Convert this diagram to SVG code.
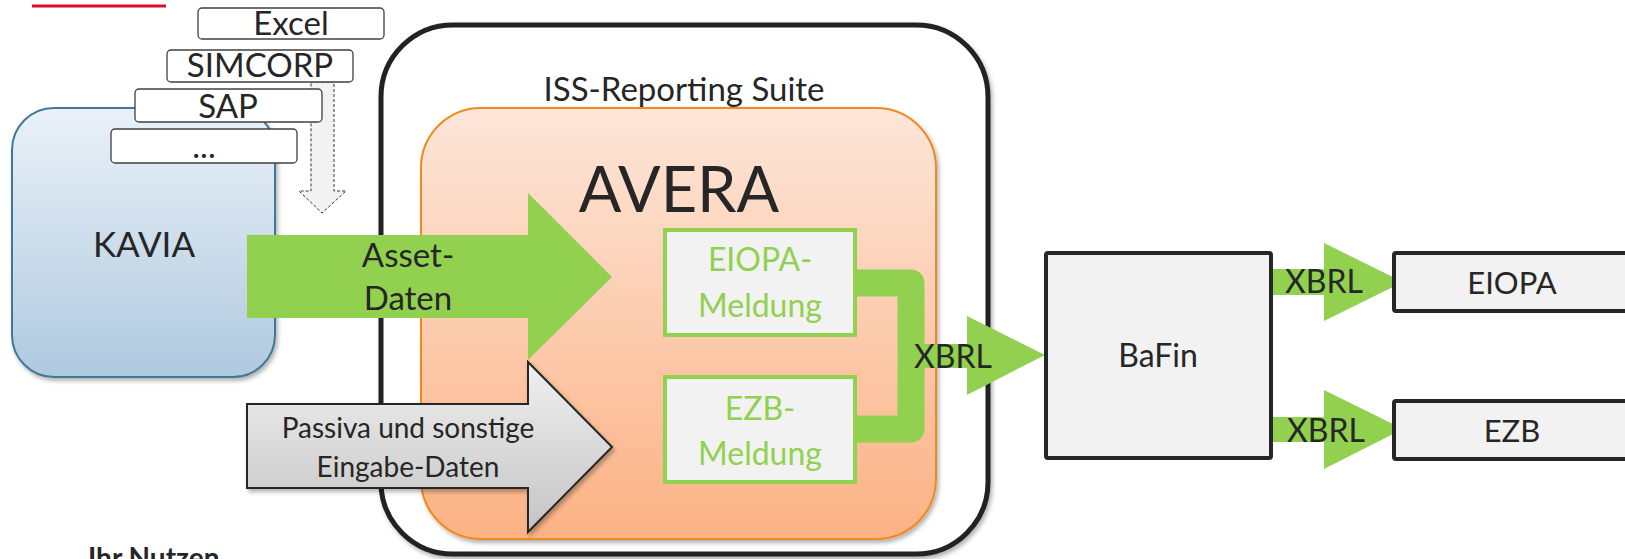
<svg xmlns="http://www.w3.org/2000/svg" width="1625" height="559" viewBox="0 0 1625 559">
<defs>
  <linearGradient id="gKavia" x1="0" y1="0" x2="0" y2="1">
    <stop offset="0" stop-color="#eaf1f8"/>
    <stop offset="1" stop-color="#afc9df"/>
  </linearGradient>
  <linearGradient id="gAvera" x1="0" y1="0" x2="0" y2="1">
    <stop offset="0" stop-color="#fde6d9"/>
    <stop offset="1" stop-color="#fbb284"/>
  </linearGradient>
  <linearGradient id="gGray" x1="0" y1="0" x2="0" y2="1">
    <stop offset="0" stop-color="#f0f0f0"/>
    <stop offset="1" stop-color="#c4c4c4"/>
  </linearGradient>
  <filter id="shadow" x="-10%" y="-10%" width="130%" height="130%">
    <feDropShadow dx="2" dy="3" stdDeviation="2" flood-color="#000" flood-opacity="0.3"/>
  </filter>
</defs>
<style>
  text { font-family: Lato, "Liberation Sans", sans-serif; fill: #262626; text-anchor: middle; }
  .src { fill: #ffffff; stroke: #404040; stroke-width: 1.3; }
  .box { fill: #f2f2f2; stroke: #262626; stroke-width: 4; }
  .msg { fill: #f2f2f2; stroke: #92d050; stroke-width: 4; }
  .gtext { fill: #92d050; }
  .green { fill: #92d050; }
</style>
<rect width="1625" height="559" fill="#ffffff"/>
<line x1="32" y1="6" x2="166" y2="6" stroke="#d8102c" stroke-width="3"/>

<g id="iss-suite">
  <rect x="381" y="25" width="607" height="529" rx="72" fill="#ffffff" stroke="#222222" stroke-width="5" filter="url(#shadow)"/>
  <text x="684" y="101" font-size="33">ISS-Reporting Suite</text>
</g>

<g id="avera">
  <rect x="421" y="108" width="515" height="431" rx="60" fill="url(#gAvera)" stroke="#f08a1c" stroke-width="2" filter="url(#shadow)"/>
  <text x="679" y="212" font-size="63">AVERA</text>
</g>

<g id="kavia">
  <rect x="12" y="108" width="263" height="269" rx="42" fill="url(#gKavia)" stroke="#41789a" stroke-width="2" filter="url(#shadow)"/>
  <text x="144" y="257" font-size="35">KAVIA</text>
</g>

<g id="connectors">
  <path d="M311,82 H334 V191 H346 L322,213 L299,191 H311 Z" fill="#f2f2f2" stroke="#333333" stroke-width="1" stroke-dasharray="3,2"/>
  <path d="M855,283 H911 V429 H855" fill="none" stroke="#92d050" stroke-width="27" stroke-linejoin="round"/>
</g>

<g id="src-excel">
  <rect class="src" x="198" y="8" width="186" height="31" rx="4"/>
  <text x="291" y="35" font-size="33">Excel</text>
</g>
<g id="src-simcorp">
  <rect class="src" x="167" y="50" width="186" height="32" rx="4"/>
  <text x="260" y="77" font-size="33">SIMCORP</text>
</g>
<g id="src-sap">
  <rect class="src" x="135" y="89" width="187" height="33" rx="4"/>
  <text x="228" y="118" font-size="33">SAP</text>
</g>
<g id="src-more">
  <rect class="src" x="111" y="129" width="186" height="34" rx="4"/>
  <text x="204" y="158" font-size="33">...</text>
</g>

<g id="eiopa-meldung">
  <rect class="msg" x="665" y="230" width="190" height="105"/>
  <text class="gtext" x="760" y="271" font-size="32">EIOPA-</text>
  <text class="gtext" x="760" y="317" font-size="32">Meldung</text>
</g>
<g id="ezb-meldung">
  <rect class="msg" x="665" y="377" width="190" height="105"/>
  <text class="gtext" x="760" y="420" font-size="32">EZB-</text>
  <text class="gtext" x="760" y="465" font-size="32">Meldung</text>
</g>

<g id="connectors-arrows">
  <g id="asset-daten">
    <path class="green" d="M247,235 H528 V193 L612,277 L528,360 V318 H247 Z"/>
    <text x="408" y="267" font-size="33">Asset-</text>
    <text x="408" y="310" font-size="33">Daten</text>
  </g>
  <g id="passiva">
    <path d="M247,404 H528 V362 L612,447 L528,532 V488 H247 Z" fill="url(#gGray)" stroke="#262626" stroke-width="2" stroke-linejoin="miter" filter="url(#shadow)"/>
    <text x="408" y="438" font-size="28">Passiva und sonstige</text>
    <text x="408" y="477" font-size="28">Eingabe-Daten</text>
  </g>
  <g id="xbrl-bafin">
    <path class="green" d="M905,344 H967 V316 L1045,355 L967,395 V368 H905 Z"/>
    <text x="953" y="368" font-size="32">XBRL</text>
  </g>
  <g id="xbrl-eiopa">
    <path class="green" d="M1271,269 H1324 V243 L1403,282 L1324,321 V295 H1271 Z"/>
    <text x="1324" y="293" font-size="32">XBRL</text>
  </g>
  <g id="xbrl-ezb">
    <path class="green" d="M1271,417 H1324 V390 L1403,429 L1324,469 V442 H1271 Z"/>
    <text x="1326" y="442" font-size="32">XBRL</text>
  </g>
</g>

<g id="bafin">
  <rect class="box" x="1046" y="253" width="225" height="205" rx="2"/>
  <text x="1158" y="367" font-size="32">BaFin</text>
</g>
<g id="eiopa">
  <rect class="box" x="1394" y="253" width="240" height="58" rx="2"/>
  <text x="1512" y="294" font-size="31">EIOPA</text>
</g>
<g id="ezb">
  <rect class="box" x="1394" y="401" width="240" height="58" rx="2"/>
  <text x="1512" y="442" font-size="31">EZB</text>
</g>

<text x="88" y="568" font-size="28" font-weight="bold" style="text-anchor:start">Ihr Nutzen</text>
</svg>
